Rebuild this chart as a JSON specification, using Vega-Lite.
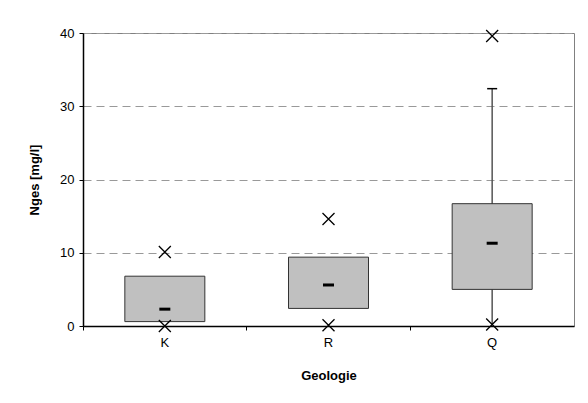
{
  "$schema": "https://vega.github.io/schema/vega-lite/v6.json",
  "width": 491,
  "height": 293,
  "autosize": {"type": "none"},
  "padding": {"left": 83, "top": 33, "right": 14, "bottom": 77},
  "background": "white",
  "config": {
    "font": "Liberation Sans",
    "view": {"stroke": "#808080", "strokeWidth": 1},
    "axis": {
      "labelFont": "Liberation Sans",
      "labelFontSize": 13,
      "labelColor": "black",
      "titleFont": "Liberation Sans",
      "titleFontSize": 13,
      "titleFontWeight": "bold",
      "titleColor": "black",
      "domainColor": "black",
      "domainWidth": 1.5,
      "tickColor": "black",
      "tickSize": 4
    }
  },
  "data": {
    "values": [
      {"geo": "K", "q1": 0.6, "q3": 6.8, "median": 2.3, "min": 0.0, "max": 10.1, "wlo": null, "whi": null},
      {"geo": "R", "q1": 2.4, "q3": 9.4, "median": 5.6, "min": 0.1, "max": 14.6, "wlo": null, "whi": null},
      {"geo": "Q", "q1": 5.0, "q3": 16.7, "median": 11.3, "min": 0.2, "max": 39.6, "wlo": 0.2, "whi": 32.4}
    ]
  },
  "encoding": {
    "x": {
      "field": "geo",
      "type": "nominal",
      "sort": ["K", "R", "Q"],
      "scale": {"paddingInner": 0, "paddingOuter": 0},
      "axis": {
        "title": "Geologie",
        "labelAngle": 0,
        "labelPadding": 6,
        "titlePadding": 20,
        "bandPosition": 0,
        "grid": false
      }
    }
  },
  "layer": [
    {
      "transform": [{"filter": "datum.wlo != null"}],
      "mark": {"type": "rule", "color": "#555", "strokeWidth": 1.5},
      "encoding": {
        "y": {"field": "wlo", "type": "quantitative"},
        "y2": {"field": "whi"}
      }
    },
    {
      "transform": [{"filter": "datum.whi != null"}],
      "mark": {"type": "tick", "orient": "horizontal", "color": "black", "thickness": 1.5, "size": 10, "opacity": 1},
      "encoding": {
        "y": {"field": "whi", "type": "quantitative"}
      }
    },
    {
      "mark": {"type": "bar", "fill": "#C0C0C0", "stroke": "#333", "strokeWidth": 1, "size": 80},
      "encoding": {
        "y": {
          "field": "q1",
          "type": "quantitative",
          "scale": {"domain": [0, 40], "nice": false},
          "axis": {
            "title": "Nges [mg/l]",
            "values": [0, 10, 20, 30, 40],
            "labelPadding": 5,
            "titlePadding": 18,
            "grid": true,
            "gridColor": "#999",
            "gridDash": [8, 5],
            "gridWidth": 1
          }
        },
        "y2": {"field": "q3"}
      }
    },
    {
      "mark": {"type": "tick", "orient": "horizontal", "color": "black", "thickness": 3, "size": 11, "opacity": 1},
      "encoding": {
        "y": {"field": "median", "type": "quantitative"}
      }
    },
    {
      "mark": {"type": "point", "shape": "M-1,-1L1,1M1,-1L-1,1", "size": 144, "stroke": "black", "strokeWidth": 1.3, "filled": false, "opacity": 1},
      "encoding": {
        "y": {"field": "max", "type": "quantitative"}
      }
    },
    {
      "mark": {"type": "point", "shape": "M-1,-1L1,1M1,-1L-1,1", "size": 144, "stroke": "black", "strokeWidth": 1.3, "filled": false, "opacity": 1, "clip": false},
      "encoding": {
        "y": {"field": "min", "type": "quantitative"}
      }
    }
  ]
}
